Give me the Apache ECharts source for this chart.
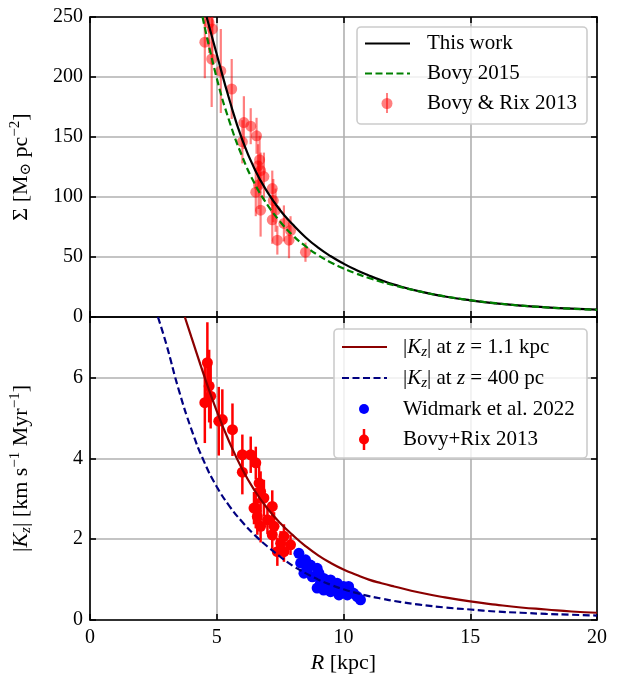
<!DOCTYPE html>
<html>
<head>
<meta charset="utf-8">
<script src="https://cdn.jsdelivr.net/npm/echarts@6/dist/echarts.min.js"></script>
<style>
  html, body { margin: 0; padding: 0; background: #fff; }
  #chart { width: 620px; height: 679px; }
</style>
</head>
<body>
<div id="chart"></div>
<script>
// tick values
var rTicks = [0, 5, 10, 15, 20];
var sigmaTicks = [0, 50, 100, 150, 200, 250];
var kzTicks = [0, 2, 4, 6];
var kzMax = 7.5;

// top panel: surface density curves
var thisWorkR = [4.6, 5, 5.5, 6, 6.5, 7, 7.5, 8, 8.5, 9, 9.5, 10, 10.5, 11, 11.5, 12, 13, 14, 15, 16, 17, 18, 19, 20];
var thisWorkSigma = [250, 219, 181, 148, 123, 104, 89, 77, 66.5, 57.8, 50.6, 44.5, 39.2, 34.6, 30.5, 27, 21.3, 17.1, 13.9, 11.4, 9.5, 8.1, 7, 6.2];
var bovy15R = [4.44, 5, 5.5, 6, 6.5, 7, 7.5, 8, 8.5, 9, 9.5, 10, 10.5, 11, 11.5, 12, 13, 14, 15, 16, 17, 18, 19, 20];
var bovy15Sigma = [250, 199, 163, 134, 111, 93.5, 79.5, 68, 59, 51.5, 45.5, 40.5, 36.2, 32.5, 29.2, 26.3, 21.3, 17.2, 14, 11.5, 9.5, 8, 6.9, 6];

// Bovy & Rix 2013 surface densities
var brSigmaR = [4.53, 4.70, 4.83, 4.80, 5.16, 5.59, 6.07, 6.34, 6.57, 6.01, 6.69, 6.63, 6.73, 6.86, 6.54, 7.19, 7.23, 6.73, 7.32, 7.19, 7.65, 7.39, 7.85, 7.91, 8.50, 6.65];
var brSigma = [229, 245, 240, 215, 205, 190, 162, 159, 151, 146, 131, 126, 122, 117, 104, 107, 97, 89, 89, 81, 78, 64, 64, 72, 54, 110];
var brSigmaErr = [30, 25, 30, 40, 35, 25, 22, 15, 15, 18, 20, 18, 15, 20, 20, 15, 18, 22, 18, 20, 15, 12, 15, 12, 8, 20];

// bottom panel: vertical force curves
var kz11R = [3.74, 4, 4.5, 5, 5.5, 6, 6.5, 7, 7.5, 8, 8.5, 9, 9.5, 10, 10.5, 11, 11.5, 12, 13, 14, 15, 16, 17, 18, 19, 20];
var kz11 = [7.5, 7.0, 6.05, 5.17, 4.4, 3.74, 3.2, 2.76, 2.4, 2.1, 1.83, 1.6, 1.41, 1.25, 1.12, 1.0, 0.91, 0.83, 0.68, 0.56, 0.46, 0.38, 0.31, 0.26, 0.21, 0.18];
var kz400R = [2.68, 3, 3.5, 4, 4.5, 5, 5.5, 6, 6.5, 7, 7.5, 8, 8.5, 9, 9.5, 10, 10.5, 11, 11.5, 12, 13, 14, 15, 16, 17, 18, 19, 20];
var kz400 = [7.5, 6.85, 5.7, 4.72, 3.92, 3.3, 2.82, 2.43, 2.1, 1.82, 1.57, 1.34, 1.16, 1.0, 0.87, 0.76, 0.67, 0.59, 0.53, 0.47, 0.38, 0.31, 0.26, 0.21, 0.18, 0.15, 0.13, 0.11];

// Widmark et al. 2022
var widmarkR = [8.24, 8.50, 8.31, 8.70, 8.96, 8.57, 8.44, 9.03, 8.77, 9.22, 9.49, 9.09, 9.75, 9.62, 10.0, 10.2, 8.96, 9.36, 9.88, 10.28, 10.15, 10.54, 10.67, 10.4, 9.82, 9.49, 9.22];
var widmarkKz = [1.65, 1.49, 1.41, 1.36, 1.28, 1.24, 1.16, 1.16, 1.07, 1.03, 0.99, 0.91, 0.91, 0.83, 0.83, 0.83, 0.79, 0.83, 0.74, 0.70, 0.62, 0.58, 0.50, 0.66, 0.62, 0.70, 0.74];

// Bovy+Rix 2013 forces
var brKzR = [4.63, 4.70, 4.53, 4.76, 5.08, 5.22, 5.62, 6.01, 6.34, 6.54, 6.01, 6.67, 6.73, 6.86, 7.19, 6.54, 6.47, 6.60, 7.00, 6.73, 7.26, 7.19, 7.65, 7.91, 7.52, 7.39, 7.65];
var brKz = [6.37, 5.79, 5.38, 5.54, 4.92, 4.96, 4.71, 4.09, 4.09, 3.89, 3.66, 3.39, 3.18, 3.02, 2.81, 2.77, 2.77, 2.56, 2.48, 2.32, 2.32, 2.11, 2.07, 1.86, 1.90, 1.69, 1.69];
var brKzErr = [1.0, 0.9, 1.0, 0.8, 0.85, 0.75, 0.65, 0.5, 0.45, 0.4, 0.55, 0.5, 0.5, 0.45, 0.4, 0.5, 0.4, 0.45, 0.35, 0.4, 0.35, 0.35, 0.3, 0.25, 0.3, 0.35, 0.25];

var FONT = '"Liberation Serif", "DejaVu Serif", serif';
var GRID_COLOR = '#b0b0b0';
var TICK_SIZE = 20;

function pairs(xs, ys) {
    return xs.map(function (x, i) { return [x, ys[i]]; });
}
function triples(xs, ys, es) {
    return xs.map(function (x, i) { return [x, ys[i], es[i]]; });
}

// vertical error bars, clipped to the plot box
function errorBars(color, width, opacity) {
    return function (params, api) {
        var cs = params.coordSys;
        var x = api.value(0), y = api.value(1), e = api.value(2);
        var hi = api.coord([x, y + e]);
        var lo = api.coord([x, y - e]);
        return {
            type: 'line',
            shape: {
                x1: hi[0], y1: Math.max(hi[1], cs.y),
                x2: lo[0], y2: Math.min(lo[1], cs.y + cs.height)
            },
            style: { stroke: color, lineWidth: width, opacity: opacity }
        };
    };
}

function richSet (size) {
    var small = Math.round(size * 0.7)
    return {
        n: { fontFamily: FONT, fontSize: size, color: '#000', lineHeight: size + 4 },
        i: { fontFamily: FONT, fontSize: size, color: '#000', fontStyle: 'italic', lineHeight: size + 4 },
        sub: { fontFamily: FONT, fontSize: small, color: '#000', verticalAlign: 'bottom', lineHeight: small },
        subi: { fontFamily: FONT, fontSize: small, color: '#000', fontStyle: 'italic', verticalAlign: 'bottom', lineHeight: small },
        sup: { fontFamily: FONT, fontSize: small, color: '#000', verticalAlign: 'top', lineHeight: small }
    }
}
var richAxis = richSet(22)
var richLegend = richSet(21)

function xAxis (grid, pos, labels) {
    var ax = {
        type: 'value', gridIndex: grid, position: pos,
        min: rTicks[0], max: rTicks[rTicks.length - 1], interval: rTicks[1] - rTicks[0],
        axisLine: { show: true, onZero: false, lineStyle: { color: '#000', width: 1.6 } },
        axisTick: { show: true, inside: true, length: 6, lineStyle: { color: '#000', width: 1.6 } },
        axisLabel: { show: labels, margin: 8, color: '#000', fontFamily: FONT, fontSize: TICK_SIZE },
        splitLine: { show: pos === 'bottom', lineStyle: { color: GRID_COLOR, width: 1.6 } }
    }
    if (labels) {
        ax.name = '{i|R}{n| [kpc]}'
        ax.nameLocation = 'middle'
        ax.nameGap = 30
        ax.nameTextStyle = { rich: richAxis }
    }
    return ax
}

function yAxis (grid, pos, ticks, max) {
    return {
        type: 'value', gridIndex: grid, position: pos,
        min: ticks[0], max: max, interval: ticks[1] - ticks[0],
        axisLine: { show: true, onZero: false, lineStyle: { color: '#000', width: 1.6 } },
        axisTick: { show: true, inside: true, length: 6, lineStyle: { color: '#000', width: 1.6 } },
        axisLabel: {
            show: pos === 'left', margin: 7, color: '#000', fontFamily: FONT, fontSize: TICK_SIZE,
            showMaxLabel: max === ticks[ticks.length - 1]
        },
        splitLine: { show: pos === 'left', lineStyle: { color: GRID_COLOR, width: 1.6 } }
    }
}

var yTop = yAxis(0, 'left', sigmaTicks, sigmaTicks[sigmaTicks.length - 1])
yTop.name = '{n|\u03a3 [M}{sub|\u2299}{n| pc}{sup|\u22122}{n|]}'
yTop.nameLocation = 'middle'
yTop.nameGap = 56
yTop.nameTextStyle = { rich: richAxis }

var yBot = yAxis(1, 'left', kzTicks, kzMax)
yBot.name = '{n||}{i|K}{subi|z}{n|| [km s}{sup|\u22121}{n| Myr}{sup|\u22121}{n|]}'
yBot.nameLocation = 'middle'
yBot.nameGap = 56
yBot.nameTextStyle = { rich: richAxis }

// legends drawn as plain graphics, above the plot
function legendText (x, y, text) {
    return {
        type: 'text', x: x, y: y, z: 100,
        style: { text: text, rich: richLegend, fontFamily: FONT, fontSize: 21, fill: '#000', verticalAlign: 'middle', align: 'left' }
    }
}
function legendLine (x1, x2, y, color, dashed) {
    return {
        type: 'line', z: 100, shape: { x1: x1, y1: y, x2: x2, y2: y },
        style: { stroke: color, lineWidth: 2.2, lineDash: dashed ? [7, 3.5] : null }
    }
}
function legendBox (x, y, w, h) {
    return {
        type: 'rect', z: 99, shape: { x: x, y: y, width: w, height: h, r: 4 },
        style: { fill: 'rgba(255,255,255,0.8)', stroke: '#cccccc', lineWidth: 1.6 }
    }
}

var graphics = [
    legendBox(357, 27, 230, 97),
    legendLine(365, 410, 43.5, '#000', false),
    legendText(427, 43.5, '{n|This work}'),
    legendLine(365, 410, 73.5, '#008000', true),
    legendText(427, 73.5, '{n|Bovy 2015}'),
    { type: 'line', z: 100, shape: { x1: 387, y1: 93, x2: 387, y2: 113 }, style: { stroke: '#ff0000', lineWidth: 2, opacity: 0.5 } },
    { type: 'circle', z: 100, shape: { cx: 387, cy: 103.5, r: 5.5 }, style: { fill: '#ff0000', opacity: 0.5 } },
    legendText(427, 103.5, '{n|Bovy & Rix 2013}'),

    legendBox(334, 329, 253, 129),
    legendLine(342, 387, 347, '#8b0000', false),
    legendText(403, 347, '{n||}{i|K}{subi|z}{n|| at }{i|z}{n| = 1.1 kpc}'),
    legendLine(342, 387, 378, '#000080', true),
    legendText(403, 378, '{n||}{i|K}{subi|z}{n|| at }{i|z}{n| = 400 pc}'),
    { type: 'circle', z: 100, shape: { cx: 364, cy: 409, r: 5 }, style: { fill: '#0000ff' } },
    legendText(403, 409, '{n|Widmark et al. 2022}'),
    { type: 'line', z: 100, shape: { x1: 364, y1: 429, x2: 364, y2: 450 }, style: { stroke: '#ff0000', lineWidth: 2.5 } },
    { type: 'circle', z: 100, shape: { cx: 364, cy: 439.5, r: 5 }, style: { fill: '#ff0000' } },
    legendText(403, 439.5, '{n|Bovy+Rix 2013}')
]

var chart = echarts.init(document.getElementById('chart'))
chart.setOption({
    backgroundColor: '#fff',
    animation: false,
    grid: [
        { left: 89, top: 17, width: 508, height: 300 },
        { left: 89, top: 317, width: 508, height: 303 }
    ],
    xAxis: [
        xAxis(0, 'bottom', false),
        xAxis(0, 'top', false),
        xAxis(1, 'bottom', true),
        xAxis(1, 'top', false)
    ],
    yAxis: [
        yTop,
        yAxis(0, 'right', sigmaTicks, sigmaTicks[sigmaTicks.length - 1]),
        yBot,
        yAxis(1, 'right', kzTicks, kzMax)
    ],
    series: [
        {
            name: 'Bovy & Rix 2013 bars', type: 'custom', xAxisIndex: 0, yAxisIndex: 0,
            renderItem: errorBars('#ff0000', 2.2, 0.5),
            data: triples(brSigmaR, brSigma, brSigmaErr), z: 3
        },
        {
            name: 'Bovy & Rix 2013', type: 'scatter', xAxisIndex: 0, yAxisIndex: 0,
            symbolSize: 11, itemStyle: { color: '#ff0000', opacity: 0.5 },
            data: pairs(brSigmaR, brSigma), z: 3
        },
        {
            name: 'This work', type: 'line', xAxisIndex: 0, yAxisIndex: 0,
            showSymbol: false, smooth: 0.5,
            lineStyle: { color: '#000', width: 2.2 },
            data: pairs(thisWorkR, thisWorkSigma), z: 4
        },
        {
            name: 'Bovy 2015', type: 'line', xAxisIndex: 0, yAxisIndex: 0,
            showSymbol: false, smooth: 0.5,
            lineStyle: { color: '#008000', width: 2.2, type: [7, 3.5] },
            data: pairs(bovy15R, bovy15Sigma), z: 4
        },

        {
            name: 'Widmark et al. 2022', type: 'scatter', xAxisIndex: 2, yAxisIndex: 2,
            symbolSize: 11, itemStyle: { color: '#0000ff', opacity: 1 },
            data: pairs(widmarkR, widmarkKz), z: 3
        },
        {
            name: 'Bovy+Rix 2013 bars', type: 'custom', xAxisIndex: 2, yAxisIndex: 2,
            renderItem: errorBars('#ff0000', 2.5, 1),
            data: triples(brKzR, brKz, brKzErr), z: 3
        },
        {
            name: 'Bovy+Rix 2013', type: 'scatter', xAxisIndex: 2, yAxisIndex: 2,
            symbolSize: 11, itemStyle: { color: '#ff0000', opacity: 1 },
            data: pairs(brKzR, brKz), z: 3
        },
        {
            name: '|Kz| at z=1.1 kpc', type: 'line', xAxisIndex: 2, yAxisIndex: 2,
            showSymbol: false, smooth: 0.5,
            lineStyle: { color: '#8b0000', width: 2.2 },
            data: pairs(kz11R, kz11), z: 4
        },
        {
            name: '|Kz| at z=400 pc', type: 'line', xAxisIndex: 2, yAxisIndex: 2,
            showSymbol: false, smooth: 0.5,
            lineStyle: { color: '#000080', width: 2.2, type: [7, 3.5] },
            data: pairs(kz400R, kz400), z: 4
        }
    ],
    graphic: graphics
})
</script>
</body>
</html>
